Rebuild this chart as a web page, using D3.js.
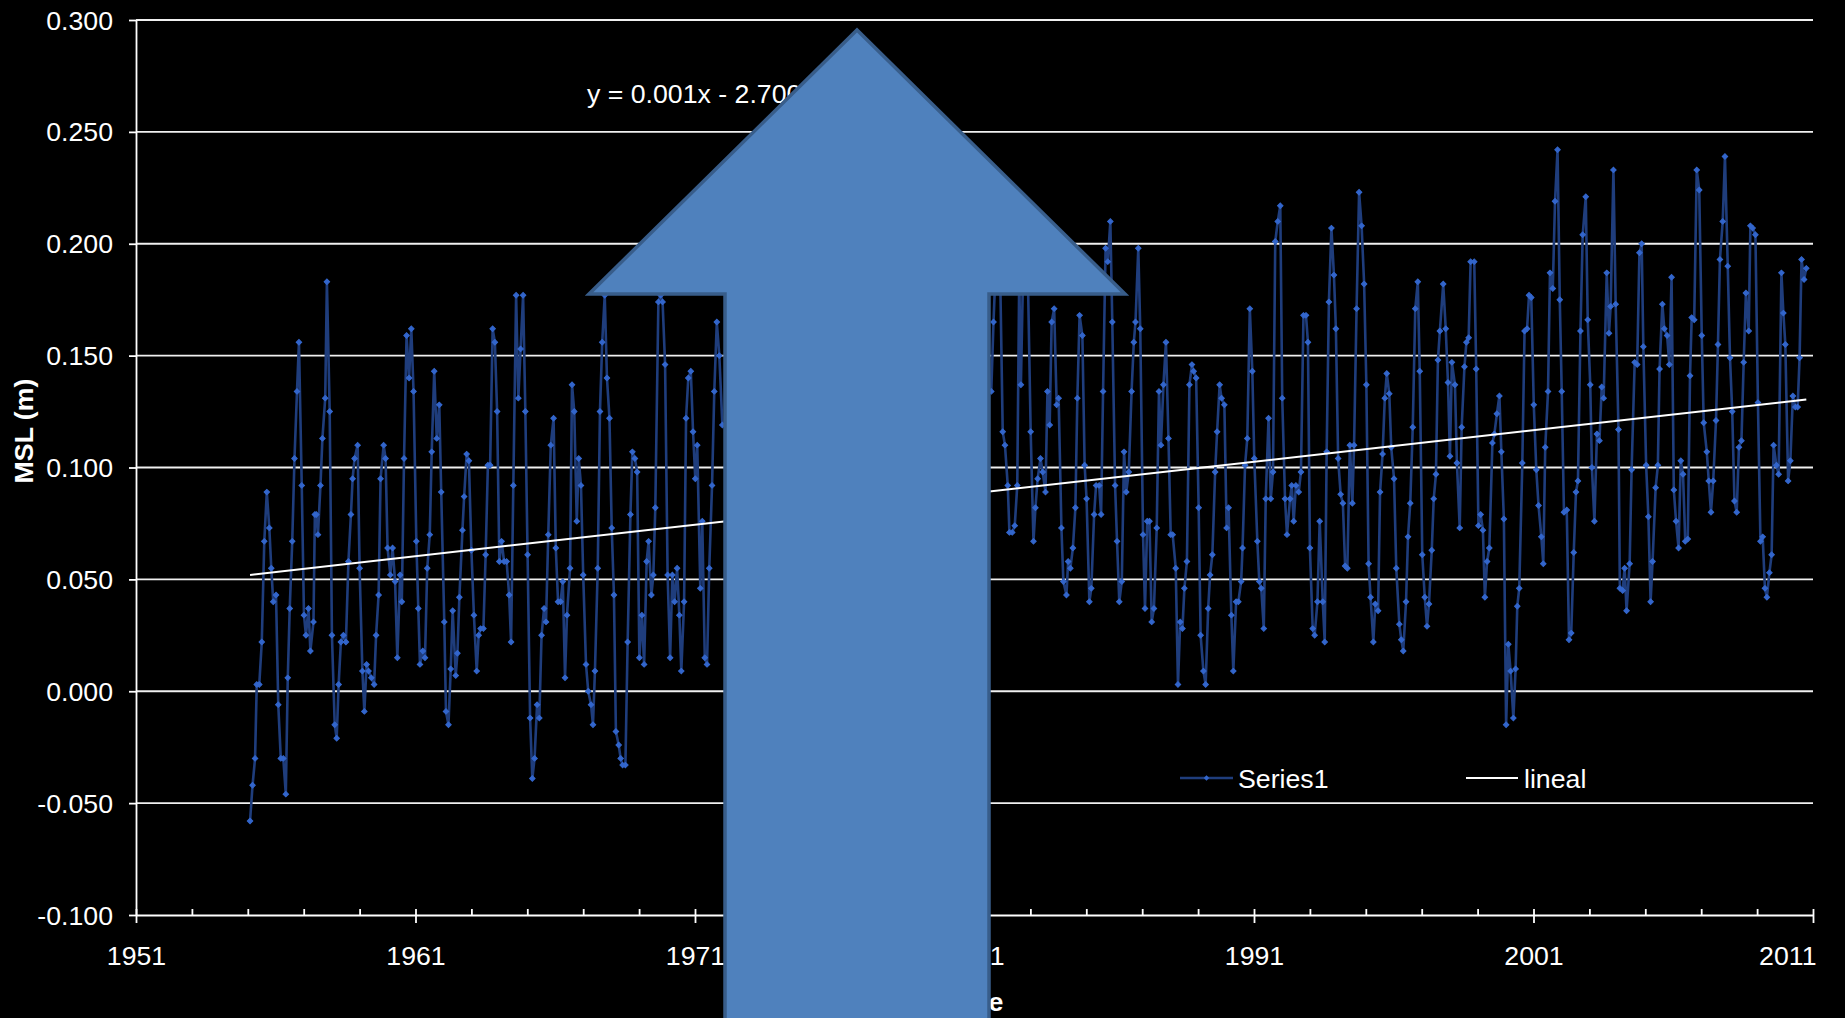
<!DOCTYPE html>
<html>
<head>
<meta charset="utf-8">
<script src="https://cdn.jsdelivr.net/npm/d3@7"></script>
<style>
    html, body { margin: 0; padding: 0; background: #000; overflow: hidden; }
    svg { display: block; }
    text { font-family: Arial, "Liberation Sans", sans-serif; fill: #fff; }
</style>
</head>
<body>
<svg id="chart" width="1845" height="1018"></svg>
<script>
// monthly MSL readings, [decimal year, metres]; 1972-1981 is covered by the arrow
const series1 = [
    [1955.08,-0.058],[1955.17,-0.042],[1955.26,-0.030],[1955.32,0.003],[1955.41,0.003],[1955.50,0.022],
    [1955.59,0.067],[1955.68,0.089],[1955.77,0.073],[1955.84,0.055],[1955.91,0.040],[1956.01,0.043],
    [1956.09,-0.006],[1956.18,-0.030],[1956.27,-0.030],[1956.36,-0.046],[1956.43,0.006],[1956.50,0.037],
    [1956.59,0.067],[1956.67,0.104],[1956.76,0.134],[1956.83,0.156],[1956.93,0.092],[1957.01,0.034],
    [1957.08,0.025],[1957.17,0.037],[1957.24,0.018],[1957.35,0.031],[1957.40,0.079],[1957.45,0.079],
    [1957.51,0.070],[1957.60,0.092],[1957.67,0.113],[1957.77,0.131],[1957.83,0.183],[1957.93,0.125],
    [1958.01,0.025],[1958.11,-0.015],[1958.18,-0.021],[1958.25,0.003],[1958.33,0.022],[1958.42,0.025],
    [1958.51,0.022],[1958.60,0.058],[1958.69,0.079],[1958.75,0.095],[1958.82,0.104],[1958.93,0.110],
    [1959.00,0.055],[1959.10,0.009],[1959.17,-0.009],[1959.25,0.012],[1959.32,0.009],[1959.42,0.006],
    [1959.52,0.003],[1959.59,0.025],[1959.68,0.043],[1959.75,0.095],[1959.86,0.110],[1959.93,0.104],
    [1960.00,0.064],[1960.10,0.052],[1960.18,0.064],[1960.27,0.049],[1960.35,0.015],[1960.45,0.052],
    [1960.51,0.040],[1960.59,0.104],[1960.68,0.159],[1960.77,0.140],[1960.85,0.162],[1960.93,0.134],
    [1961.03,0.067],[1961.10,0.037],[1961.16,0.012],[1961.26,0.018],[1961.34,0.015],[1961.42,0.055],
    [1961.51,0.070],[1961.58,0.107],[1961.67,0.143],[1961.76,0.113],[1961.85,0.128],[1961.92,0.089],
    [1962.03,0.031],[1962.09,-0.009],[1962.18,-0.015],[1962.26,0.010],[1962.33,0.036],[1962.44,0.007],
    [1962.50,0.017],[1962.57,0.042],[1962.68,0.072],[1962.74,0.087],[1962.83,0.106],[1962.91,0.103],
    [1963.00,0.063],[1963.09,0.034],[1963.19,0.009],[1963.26,0.025],[1963.33,0.028],[1963.43,0.028],
    [1963.51,0.061],[1963.59,0.101],[1963.67,0.101],[1963.76,0.162],[1963.84,0.156],[1963.92,0.125],
    [1964.00,0.058],[1964.08,0.067],[1964.17,0.058],[1964.26,0.058],[1964.35,0.043],[1964.42,0.022],
    [1964.50,0.092],[1964.60,0.177],[1964.68,0.131],[1964.76,0.153],[1964.85,0.177],[1964.93,0.125],
    [1965.01,0.061],[1965.10,-0.012],[1965.18,-0.039],[1965.26,-0.030],[1965.35,-0.006],[1965.43,-0.012],
    [1965.51,0.025],[1965.60,0.037],[1965.67,0.031],[1965.75,0.070],[1965.84,0.110],[1965.94,0.122],
    [1966.02,0.064],[1966.10,0.040],[1966.19,0.040],[1966.27,0.049],[1966.35,0.006],[1966.42,0.034],
    [1966.53,0.055],[1966.60,0.137],[1966.68,0.125],[1966.77,0.076],[1966.84,0.104],[1966.92,0.092],
    [1967.00,0.052],[1967.10,0.012],[1967.18,0.000],[1967.28,-0.006],[1967.35,-0.015],[1967.42,0.009],
    [1967.52,0.055],[1967.60,0.125],[1967.68,0.156],[1967.77,0.177],[1967.85,0.140],[1967.94,0.122],
    [1968.02,0.073],[1968.10,0.043],[1968.17,-0.018],[1968.27,-0.024],[1968.34,-0.030],[1968.41,-0.033],
    [1968.51,-0.033],[1968.59,0.022],[1968.69,0.079],[1968.76,0.107],[1968.85,0.104],[1968.93,0.098],
    [1969.01,0.015],[1969.10,0.034],[1969.18,0.012],[1969.27,0.058],[1969.34,0.067],[1969.44,0.043],
    [1969.51,0.052],[1969.58,0.082],[1969.69,0.174],[1969.77,0.177],[1969.84,0.174],[1969.93,0.146],
    [1970.02,0.052],[1970.11,0.015],[1970.19,0.052],[1970.27,0.040],[1970.36,0.055],[1970.44,0.034],
    [1970.51,0.009],[1970.61,0.040],[1970.68,0.122],[1970.76,0.140],[1970.85,0.143],[1970.93,0.116],
    [1971.01,0.095],[1971.08,0.110],[1971.19,0.046],[1971.26,0.076],[1971.35,0.015],[1971.43,0.012],
    [1971.51,0.055],[1971.61,0.092],[1971.69,0.134],[1971.78,0.165],[1971.87,0.150],[1971.98,0.119],
    [1981.60,0.134],[1981.68,0.165],[1981.76,0.190],[1981.84,0.200],[1981.92,0.185],[1982.01,0.116],
    [1982.09,0.110],[1982.19,0.092],[1982.25,0.071],[1982.35,0.071],[1982.44,0.074],[1982.53,0.092],
    [1982.60,0.185],[1982.66,0.137],[1982.75,0.195],[1982.83,0.205],[1982.91,0.185],[1983.01,0.116],
    [1983.11,0.067],[1983.18,0.082],[1983.26,0.095],[1983.36,0.104],[1983.44,0.098],[1983.54,0.089],
    [1983.61,0.134],[1983.69,0.119],[1983.76,0.165],[1983.85,0.171],[1983.94,0.128],[1984.01,0.131],
    [1984.11,0.073],[1984.18,0.049],[1984.29,0.043],[1984.35,0.058],[1984.43,0.055],[1984.52,0.064],
    [1984.61,0.082],[1984.68,0.131],[1984.76,0.168],[1984.86,0.159],[1984.94,0.101],[1985.01,0.086],
    [1985.11,0.040],[1985.18,0.046],[1985.28,0.079],[1985.35,0.092],[1985.46,0.092],[1985.53,0.079],
    [1985.60,0.134],[1985.69,0.198],[1985.77,0.192],[1985.86,0.210],[1985.93,0.165],[1986.03,0.092],
    [1986.10,0.067],[1986.18,0.040],[1986.27,0.049],[1986.35,0.107],[1986.43,0.089],[1986.52,0.098],
    [1986.62,0.134],[1986.70,0.156],[1986.76,0.165],[1986.86,0.198],[1986.93,0.162],[1987.03,0.070],
    [1987.10,0.037],[1987.18,0.076],[1987.26,0.076],[1987.34,0.031],[1987.42,0.037],[1987.52,0.073],
    [1987.60,0.134],[1987.67,0.110],[1987.76,0.137],[1987.85,0.156],[1987.94,0.113],[1988.02,0.070],
    [1988.09,0.070],[1988.20,0.055],[1988.28,0.003],[1988.36,0.031],[1988.44,0.028],[1988.51,0.046],
    [1988.60,0.058],[1988.69,0.137],[1988.78,0.146],[1988.84,0.143],[1988.93,0.140],[1989.02,0.082],
    [1989.09,0.025],[1989.19,0.009],[1989.27,0.003],[1989.36,0.037],[1989.43,0.052],[1989.51,0.061],
    [1989.61,0.098],[1989.68,0.116],[1989.77,0.137],[1989.84,0.131],[1989.94,0.128],[1990.02,0.073],
    [1990.09,0.082],[1990.19,0.034],[1990.26,0.009],[1990.36,0.040],[1990.44,0.040],[1990.54,0.049],
    [1990.59,0.064],[1990.68,0.101],[1990.76,0.113],[1990.85,0.171],[1990.94,0.143],[1991.01,0.104],
    [1991.12,0.067],[1991.19,0.049],[1991.26,0.046],[1991.35,0.028],[1991.42,0.086],[1991.52,0.122],
    [1991.60,0.086],[1991.68,0.098],[1991.76,0.201],[1991.85,0.210],[1991.94,0.217],[1992.01,0.131],
    [1992.11,0.086],[1992.18,0.070],[1992.29,0.086],[1992.35,0.092],[1992.42,0.076],[1992.50,0.092],
    [1992.60,0.089],[1992.68,0.098],[1992.77,0.168],[1992.86,0.168],[1992.93,0.156],[1993.00,0.064],
    [1993.10,0.028],[1993.17,0.025],[1993.27,0.040],[1993.35,0.076],[1993.46,0.040],[1993.53,0.022],
    [1993.60,0.107],[1993.68,0.174],[1993.77,0.207],[1993.86,0.186],[1993.93,0.162],[1994.01,0.104],
    [1994.10,0.088],[1994.18,0.084],[1994.26,0.056],[1994.34,0.055],[1994.43,0.110],[1994.52,0.084],
    [1994.58,0.110],[1994.67,0.171],[1994.76,0.223],[1994.85,0.208],[1994.94,0.182],[1995.02,0.137],
    [1995.10,0.057],[1995.17,0.042],[1995.27,0.022],[1995.34,0.039],[1995.44,0.036],[1995.51,0.089],
    [1995.60,0.106],[1995.68,0.131],[1995.75,0.142],[1995.84,0.133],[1995.91,0.109],[1996.01,0.095],
    [1996.09,0.055],[1996.20,0.030],[1996.27,0.023],[1996.34,0.018],[1996.44,0.040],[1996.51,0.069],
    [1996.59,0.084],[1996.68,0.118],[1996.77,0.171],[1996.86,0.183],[1996.93,0.143],[1997.02,0.061],
    [1997.11,0.042],[1997.19,0.029],[1997.26,0.039],[1997.36,0.063],[1997.43,0.086],[1997.51,0.097],
    [1997.58,0.148],[1997.65,0.161],[1997.77,0.182],[1997.86,0.162],[1997.94,0.138],[1998.01,0.105],
    [1998.08,0.147],[1998.19,0.137],[1998.26,0.102],[1998.36,0.073],[1998.43,0.118],[1998.53,0.145],
    [1998.60,0.156],[1998.68,0.158],[1998.75,0.192],[1998.88,0.192],[1998.95,0.144],[1999.03,0.074],
    [1999.11,0.079],[1999.19,0.072],[1999.26,0.042],[1999.34,0.058],[1999.42,0.064],[1999.53,0.111],
    [1999.60,0.115],[1999.69,0.124],[1999.78,0.132],[1999.85,0.107],[1999.94,0.077],[2000.02,-0.015],
    [2000.10,0.021],[2000.18,0.009],[2000.28,-0.012],[2000.36,0.010],[2000.42,0.038],[2000.49,0.046],
    [2000.60,0.102],[2000.68,0.161],[2000.77,0.162],[2000.84,0.177],[2000.92,0.176],[2001.01,0.128],
    [2001.10,0.099],[2001.18,0.083],[2001.28,0.069],[2001.35,0.057],[2001.42,0.109],[2001.52,0.134],
    [2001.59,0.187],[2001.69,0.180],[2001.77,0.219],[2001.86,0.242],[2001.94,0.175],[2002.01,0.134],
    [2002.09,0.080],[2002.19,0.081],[2002.27,0.023],[2002.35,0.026],[2002.44,0.062],[2002.52,0.089],
    [2002.59,0.094],[2002.68,0.161],[2002.76,0.204],[2002.87,0.221],[2002.94,0.166],[2003.03,0.137],
    [2003.09,0.100],[2003.18,0.076],[2003.27,0.115],[2003.36,0.112],[2003.44,0.136],[2003.51,0.131],
    [2003.62,0.187],[2003.70,0.160],[2003.76,0.172],[2003.86,0.233],[2003.94,0.173],[2004.04,0.117],
    [2004.09,0.046],[2004.19,0.045],[2004.26,0.055],[2004.33,0.036],[2004.44,0.057],[2004.51,0.099],
    [2004.62,0.147],[2004.71,0.146],[2004.79,0.196],[2004.87,0.200],[2004.93,0.154],[2005.03,0.101],
    [2005.11,0.078],[2005.19,0.040],[2005.26,0.058],[2005.37,0.091],[2005.45,0.101],[2005.51,0.144],
    [2005.61,0.173],[2005.68,0.162],[2005.78,0.159],[2005.86,0.146],[2005.94,0.185],[2006.02,0.090],
    [2006.10,0.076],[2006.19,0.064],[2006.27,0.103],[2006.35,0.097],[2006.43,0.067],[2006.52,0.068],
    [2006.60,0.141],[2006.66,0.167],[2006.75,0.166],[2006.84,0.233],[2006.93,0.224],[2007.02,0.159],
    [2007.09,0.120],[2007.20,0.107],[2007.27,0.094],[2007.35,0.080],[2007.43,0.094],[2007.53,0.121],
    [2007.60,0.155],[2007.67,0.193],[2007.77,0.210],[2007.85,0.239],[2007.95,0.190],[2008.03,0.149],
    [2008.11,0.125],[2008.19,0.085],[2008.27,0.080],[2008.35,0.109],[2008.44,0.112],[2008.52,0.147],
    [2008.60,0.178],[2008.70,0.161],[2008.76,0.208],[2008.84,0.207],[2008.94,0.204],[2009.03,0.129],
    [2009.12,0.067],[2009.20,0.069],[2009.28,0.046],[2009.35,0.042],[2009.44,0.053],[2009.52,0.061],
    [2009.59,0.110],[2009.69,0.101],[2009.77,0.097],[2009.87,0.187],[2009.94,0.169],[2010.01,0.155],
    [2010.11,0.094],[2010.19,0.103],[2010.28,0.132],[2010.37,0.127],[2010.45,0.127],[2010.52,0.149],
    [2010.59,0.193],[2010.68,0.184],[2010.76,0.189]
];

// linear trendline ("lineal")
const trendSlope = 0.0014078;
const trendIntercept = -2.70036;
const trendLabel = "y = 0.001x - 2.700";

// axes
const yTicks = [-0.100, -0.050, 0.000, 0.050, 0.100, 0.150, 0.200, 0.250, 0.300];
const xTicks = [1951, 1961, 1971, 1981, 1991, 2001, 2011];
const xMinorStep = 2;
const yTitle = "MSL (m)";
const xTitle = "Date";
const legendNames = ["Series1", "lineal"];

////////// Layout //////////
const width = 1845, height = 1018;
const margin = {top: 20, right: 32, bottom: 103, left: 136};
const fontSize = 26.7;
const lineColor = "#1f3d7c";
const markerColor = "#3366cc";

const svg = d3.select("#chart");

const x = d3.scaleLinear().domain([1951, 2011]).range([margin.left, width - margin.right]);
const y = d3.scaleLinear().domain([-0.1, 0.3]).range([height - margin.bottom, margin.top]);

// gridlines
svg.append("g")
    .selectAll("line")
    .data(yTicks.filter(d => d > -0.1))
    .enter().append("line")
    .attr("x1", x(1951))
    .attr("x2", x(2011))
    .attr("y1", d => y(d))
    .attr("y2", d => y(d))
    .attr("stroke", "#f0f0f0")
    .attr("stroke-width", 1.8);

// y axis
const fmt = d3.format(".3f");
const yAxis = svg.append("g")
    .attr("transform", `translate(${margin.left},0)`)
    .call(d3.axisLeft(y).tickValues(yTicks).tickSizeInner(7).tickSizeOuter(0).tickPadding(16)
        .tickFormat(d => fmt(d).replace("\u2212", "-")));
yAxis.selectAll("path, line").attr("stroke", "#fff").attr("stroke-width", 1.8);
yAxis.selectAll("text")
    .attr("dy", null)
    .attr("dominant-baseline", "central")
    .style("font-size", fontSize + "px")
    .style("font-family", "Arial, 'Liberation Sans', sans-serif")
    .attr("fill", "#fff");

// x axis: major ticks below, all ticks (2 yr) above
const xAxis = svg.append("g")
    .attr("transform", `translate(0,${y(-0.1)})`)
    .call(d3.axisBottom(x).tickValues(xTicks).tickSizeInner(8).tickSizeOuter(0).tickFormat(d3.format("d")));
xAxis.selectAll("path, line").attr("stroke", "#fff").attr("stroke-width", 1.8);
xAxis.selectAll("text")
    .attr("y", 50)
    .attr("dy", null)
    .style("font-size", fontSize + "px")
    .style("font-family", "Arial, 'Liberation Sans', sans-serif")
    .attr("fill", "#fff");
// last label is pulled inside the chart, as the spreadsheet does
xAxis.selectAll("text")
    .filter(d => d === 2011)
    .attr("text-anchor", "end")
    .attr("x", 3);

const xMinor = svg.append("g")
    .attr("transform", `translate(0,${y(-0.1)})`)
    .call(d3.axisTop(x).tickValues(d3.range(1951, 2012, xMinorStep)).tickSizeInner(6).tickSizeOuter(0).tickFormat(""));
xMinor.select("path").remove();
xMinor.selectAll("line").attr("stroke", "#fff").attr("stroke-width", 1.8);

// axis titles
svg.append("text")
    .attr("transform", `translate(33,431) rotate(-90)`)
    .attr("text-anchor", "middle")
    .style("font-size", fontSize + "px")
    .style("font-weight", "bold")
    .text(yTitle);

svg.append("text")
    .attr("x", (x(1951) + x(2011)) / 2)
    .attr("y", 1011)
    .attr("text-anchor", "middle")
    .style("font-size", fontSize + "px")
    .style("font-weight", "bold")
    .text(xTitle);

////////// Series //////////
const line = d3.line()
    .x(d => x(d[0]))
    .y(d => y(d[1]));

svg.append("path")
    .datum(series1)
    .attr("d", line)
    .attr("fill", "none")
    .attr("stroke", lineColor)
    .attr("stroke-width", 2.6)
    .attr("stroke-linejoin", "round");

const diamond = d3.symbol().type(d3.symbolSquare).size(15);

svg.append("g")
    .selectAll("path")
    .data(series1)
    .enter().append("path")
    .attr("d", diamond)
    .attr("transform", d => `translate(${x(d[0])},${y(d[1])}) rotate(45)`)
    .attr("fill", markerColor)
    .attr("stroke", markerColor)
    .attr("stroke-width", 1);

// trendline over the data span
const trendX = d3.extent(series1, d => d[0]);
svg.append("path")
    .datum(trendX.map(t => [t, trendSlope * t + trendIntercept]))
    .attr("d", line)
    .attr("fill", "none")
    .attr("stroke", "#fff")
    .attr("stroke-width", 2);

svg.append("text")
    .attr("x", 587)
    .attr("y", 103)
    .style("font-size", fontSize + "px")
    .text(trendLabel);

////////// Legend //////////
const legend = svg.append("g").attr("transform", "translate(1180,778)");

legend.append("line")
    .attr("x1", 0).attr("x2", 53).attr("y1", 0).attr("y2", 0)
    .attr("stroke", lineColor).attr("stroke-width", 2.6);
legend.append("path")
    .attr("d", diamond)
    .attr("transform", "translate(26.5,0) rotate(45)")
    .attr("fill", markerColor);
legend.append("text")
    .attr("x", 58).attr("y", 10)
    .style("font-size", fontSize + "px")
    .text(legendNames[0]);

legend.append("line")
    .attr("x1", 286).attr("x2", 338).attr("y1", 0).attr("y2", 0)
    .attr("stroke", "#fff").attr("stroke-width", 2);
legend.append("text")
    .attr("x", 344).attr("y", 10)
    .style("font-size", fontSize + "px")
    .text(legendNames[1]);

////////// Overlay arrow (drawn shape on top of the chart) //////////
const arrow = [[725, 1030], [725, 294], [589, 294], [857, 30], [1125, 294], [989, 294], [989, 1030]];
svg.append("path")
    .attr("d", d3.line()(arrow) + "Z")
    .attr("fill", "#4f81bd")
    .attr("stroke", "#385d8a")
    .attr("stroke-width", 3.5)
    .attr("stroke-linejoin", "miter");
</script>
</body>
</html>
